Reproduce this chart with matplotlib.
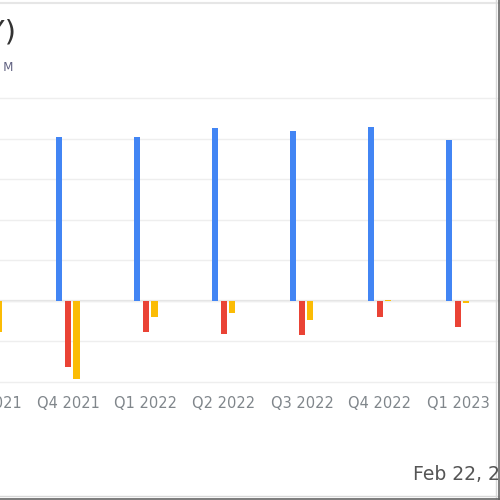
import numpy as np
import matplotlib
matplotlib.use("Agg")
import matplotlib.pyplot as plt
from matplotlib.lines import Line2D

# quarterly values (USD M)
quarters = ["Q3 2021", "Q4 2021", "Q1 2022", "Q2 2022", "Q3 2022", "Q4 2022", "Q1 2023"]
revenue = [395, 403, 403, 427, 419, 429, 396]
net_income = [-60, -164, -77, -82, -84, -40, -64]
free_cash_flow = [-76, -192, -40, -30, -47, 3, -5]

BLUE = "#4285F4"
RED = "#EA4335"
YELLOW = "#FBBC05"


def main():
    fig = plt.figure(figsize=(5, 5), dpi=100)
    fig.patch.set_facecolor("white")

    # the plot is wider than the picture, so only a part is visible
    ax = fig.add_axes([-0.1, 0.232, 1.2, 0.576])
    x = np.arange(len(quarters))
    w = 0.085
    ax.bar(x - 0.115, revenue, w, color=BLUE, zorder=3)
    ax.bar(x, net_income, w, color=RED, zorder=3)
    ax.bar(x + 0.105, free_cash_flow, w, color=YELLOW, zorder=3)

    ax.set_xlim(-0.513, 7.18)
    ax.set_ylim(-205, 505)
    ax.set_yticks(np.arange(-200, 501, 100))
    ax.yaxis.grid(True, color="#eeeeee", lw=1, zorder=0)
    ax.axhline(0, color="#e3e3e3", lw=1.6, zorder=1)
    ax.set_yticklabels([])
    ax.set_xticks(x)
    ax.set_xticklabels(quarters, fontsize=10.5, color="#80868b")
    ax.tick_params(length=0, pad=9)
    for s in ax.spines.values():
        s.set_visible(False)

    # header (cut off at the left)
    fig.text(16 / 500, 1 - 32 / 500, "Inc (XY)", ha="right", va="center",
             fontsize=21, color="#333333")
    fig.text(13 / 500, 1 - 68 / 500, "Revenue, in USD M", ha="right", va="center",
             fontsize=8.5, color="#5f6080")
    fig.add_artist(Line2D([0, 1], [1 - 3 / 500, 1 - 3 / 500], color="#e6e6e6", lw=1.5))

    fig.text(413 / 500, 1 - 475 / 500, "Feb 22, 2023", ha="left", va="center",
             fontsize=13.5, color="#555555")

    # card border
    fig.add_artist(Line2D([496 / 500, 496 / 500], [0, 1], color="#d8d8d8", lw=1))
    fig.add_artist(Line2D([0, 1], [4 / 500, 4 / 500], color="#d8d8d8", lw=1))
    fig.add_artist(Line2D([499 / 500, 499 / 500], [0, 1], color="#666666", lw=1.2))
    fig.add_artist(Line2D([0, 1], [1 / 500, 1 / 500], color="#666666", lw=1.2))

    fig.savefig("out.png", dpi=100)


if __name__ == "__main__":
    main()
